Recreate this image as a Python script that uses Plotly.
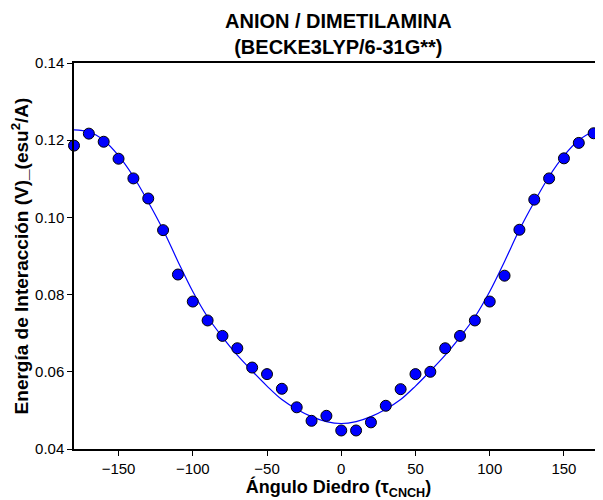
import plotly.graph_objects as go

# Data points (dihedral angle, energy)
angles = [-180, -170, -160, -150, -140, -130, -120, -110, -100, -90, -80, -70, -60, -50,
          -40, -30, -20, -10, 0, 10, 20, 30, 40, 50, 60, 70, 80, 90, 100, 110, 120, 130,
          140, 150, 160, 170]
energy = [0.1186, 0.1217, 0.1196, 0.1152, 0.1101, 0.1049, 0.0967, 0.0852, 0.0782, 0.0733,
          0.0693, 0.0661, 0.0611, 0.0594, 0.0556, 0.0508, 0.0473, 0.0486, 0.0448, 0.0448,
          0.0469, 0.0512, 0.0555, 0.0594, 0.0600, 0.0661, 0.0693, 0.0733, 0.0782, 0.0849,
          0.0968, 0.1046, 0.1101, 0.1153, 0.1193, 0.1218]

# Fitted curve
fit_angles = [-180, -170, -160, -150, -140, -130, -120, -110, -100, -90, -80, -70, -60, -50,
              -40, -30, -20, -10, 0, 10, 20, 30, 40, 50, 60, 70, 80, 90, 100, 110, 120, 130,
              140, 150, 160, 170, 180]
fit_energy = [0.1227, 0.1222, 0.1200, 0.1160, 0.1106, 0.1040, 0.0968, 0.0886, 0.0808, 0.0742,
              0.0690, 0.0643, 0.0602, 0.0563, 0.0528, 0.0503, 0.0484, 0.0471, 0.0466, 0.0471,
              0.0484, 0.0503, 0.0528, 0.0563, 0.0602, 0.0643, 0.0690, 0.0742, 0.0808, 0.0886,
              0.0968, 0.1040, 0.1106, 0.1160, 0.1200, 0.1222, 0.1227]

x_ticks = [-150, -100, -50, 0, 50, 100, 150]
y_ticks = [0.04, 0.06, 0.08, 0.10, 0.12, 0.14]

FONT = "Liberation Sans, Arial, sans-serif"

fig = go.Figure()
fig.add_trace(go.Scatter(
    x=fit_angles, y=fit_energy, mode="lines",
    line=dict(color="#0000FF", width=1.2, shape="spline", smoothing=1.0),
    showlegend=False, hoverinfo="skip"))
fig.add_trace(go.Scatter(
    x=angles, y=energy, mode="markers",
    marker=dict(color="#0000FF", size=11, line=dict(color="black", width=1)),
    showlegend=False, cliponaxis=False))

fig.update_layout(
    width=595, height=492,
    margin=dict(l=66, r=0, t=55, b=51),
    paper_bgcolor="white", plot_bgcolor="white",
    font=dict(family=FONT, size=15, color="black"),
    xaxis=dict(
        range=[-180, 176.3], tickvals=x_ticks, ticks="outside", ticklen=5,
        tickcolor="black", showline=True, linecolor="black", linewidth=1.5,
        mirror=True, showgrid=False, zeroline=False, automargin=False,
        tickfont=dict(family=FONT, size=15),
        title=dict(text="<b>Ángulo Diedro (τ<sub>CNCH</sub>)</b>",
                   font=dict(family=FONT, size=18), standoff=1)),
    yaxis=dict(
        range=[0.04, 0.14], tickvals=y_ticks, tickformat=".2f", ticks="outside",
        ticklen=5, tickcolor="black", showline=True, linecolor="black", linewidth=1.5,
        mirror=False, showgrid=False, zeroline=False, automargin=False,
        tickfont=dict(family=FONT, size=15),
        title=dict(text="<b>Energía de Interacción (V)_(esu<sup>2</sup>/A)</b>",
                   font=dict(family=FONT, size=19), standoff=5)),
    annotations=[dict(
        text="<b>ANION / DIMETILAMINA<br>(BECKE3LYP/6-31G**)</b>",
        xref="paper", yref="paper", x=0.5, y=1.0, yshift=3,
        xanchor="center", yanchor="bottom", showarrow=False,
        font=dict(family=FONT, size=20, color="black"))],
)

fig.write_html("out.html")
